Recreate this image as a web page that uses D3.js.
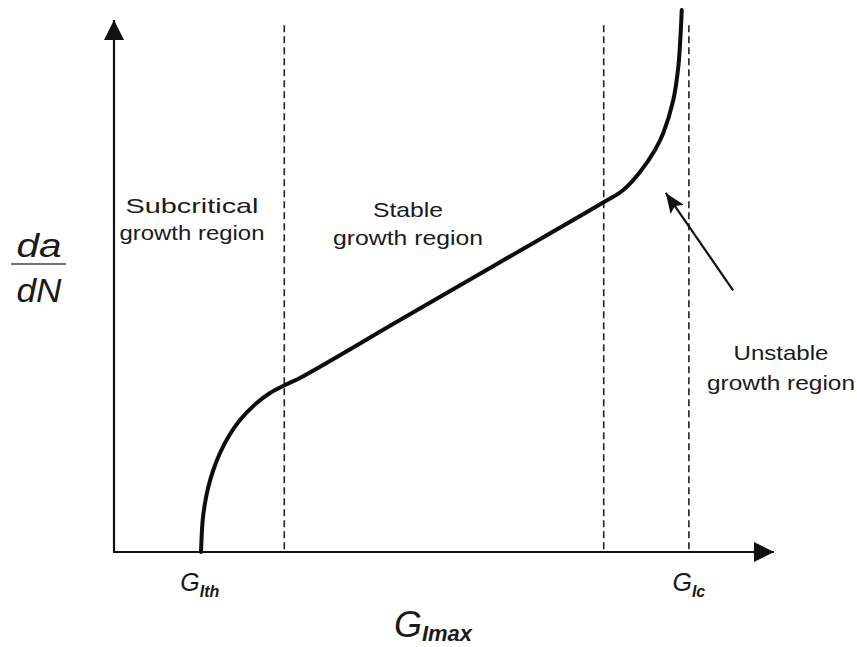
<!DOCTYPE html>
<html>
<head>
<meta charset="utf-8">
<script src="https://cdn.jsdelivr.net/npm/d3@7"></script>
<style>
  html, body { margin: 0; padding: 0; background: #fff; }
  text { font-family: "Liberation Sans", Arial, sans-serif; fill: #1a1a1a; }
</style>
</head>
<body>
<div id="chart-container"></div>
<script>
// da/dN vs G_Imax — schematic fatigue crack growth curve (arbitrary units 0..100)
const curveX = [13.18, 13.44, 13.79, 14.29, 15.05, 16.06, 17.32, 19.09, 21.62, 23.64, 25.91, 28.18, 43.33, 58.48, 74.24, 77.17, 79.70, 81.97, 83.23, 84.74, 85.50, 85.86, 86.02];
const curveY = [0.00, 6.02, 9.21, 12.22, 15.41, 18.61, 21.62, 24.81, 28.01, 29.89, 31.39, 32.71, 43.59, 54.47, 65.79, 68.05, 71.43, 75.56, 78.76, 84.96, 91.17, 97.56, 101.88];
const regionBounds = [25.8, 74.2, 87.1];          // dashed separators
const tickVals = [13.0, 87.1];                     // G_Ith, G_Ic
const tickMain = ["G", "G"];
const tickSub = ["Ith", "Ic"];
const regionLabels = [
  ["Subcritical", "growth region"],
  ["Stable", "growth region"],
  ["Unstable", "growth region"]
];

const width = 857, height = 647;
const svg = d3.select("#chart-container").append("svg")
  .attr("width", width).attr("height", height);

const x = d3.scaleLinear().domain([0, 100]).range([114, 774]);
const y = d3.scaleLinear().domain([0, 100]).range([552, 20]);

// arrow markers
const defs = svg.append("defs");
defs.append("marker")
  .attr("id", "axhead").attr("viewBox", "0 0 20 20")
  .attr("refX", 20).attr("refY", 10)
  .attr("markerWidth", 20).attr("markerHeight", 20)
  .attr("markerUnits", "userSpaceOnUse").attr("orient", "auto")
  .append("path").attr("d", "M0,0 L20,10 L0,20 Z").attr("fill", "#111");
defs.append("marker")
  .attr("id", "pointer").attr("viewBox", "0 0 20 16")
  .attr("refX", 20).attr("refY", 8)
  .attr("markerWidth", 20).attr("markerHeight", 16)
  .attr("markerUnits", "userSpaceOnUse").attr("orient", "auto")
  .append("path").attr("d", "M0,0 L20,8 L0,16 L4,8 Z").attr("fill", "#111");

// dashed region boundaries
svg.selectAll(".bound")
  .data(regionBounds)
  .join("line")
    .attr("class", "bound")
    .attr("x1", d => x(d)).attr("x2", d => x(d))
    .attr("y1", y(99)).attr("y2", y(0))
    .attr("stroke", "#222").attr("stroke-width", 1.6)
    .attr("stroke-dasharray", "7,4");

// axes
svg.append("line")
  .attr("x1", x(0)).attr("y1", y(0)).attr("x2", x(100)).attr("y2", y(0))
  .attr("stroke", "#111").attr("stroke-width", 2.2)
  .attr("marker-end", "url(#axhead)");
svg.append("line")
  .attr("x1", x(0)).attr("y1", y(0) + 1).attr("x2", x(0)).attr("y2", y(100))
  .attr("stroke", "#111").attr("stroke-width", 2.2)
  .attr("marker-end", "url(#axhead)");

// the curve
const pts = curveX.map((d, i) => [d, curveY[i]]);
const line = d3.line().x(d => x(d[0])).y(d => y(d[1])).curve(d3.curveCatmullRom.alpha(0.5));
svg.append("path")
  .datum(pts)
  .attr("d", line)
  .attr("fill", "none").attr("stroke", "#0d0d0d")
  .attr("stroke-width", 4).attr("stroke-linecap", "round");

// pointer arrow to unstable part
svg.append("line")
  .attr("x1", x(93.8)).attr("y1", y(49.2))
  .attr("x2", x(83.6)).attr("y2", y(67.5))
  .attr("stroke", "#111").attr("stroke-width", 2.2)
  .attr("marker-end", "url(#pointer)");

// region labels
const labelPos = [
  {cx: 192, y0: 213, dy: 27, w: [133, 145]},
  {cx: 408, y0: 217, dy: 28, w: [70, 150]},
  {cx: 781, y0: 360, dy: 30, w: [95, 148]}
];
regionLabels.forEach((lines, i) => {
  const p = labelPos[i];
  lines.forEach((t, j) => {
    svg.append("text")
      .attr("x", p.cx).attr("y", p.y0 + j * p.dy)
      .attr("text-anchor", "middle")
      .attr("textLength", p.w[j]).attr("lengthAdjust", "spacingAndGlyphs")
      .style("font-size", "21px")
      .text(t);
  });
});

// tick labels with subscripts
tickVals.forEach((v, i) => {
  const t = svg.append("text")
    .attr("x", x(v)).attr("y", 591)
    .attr("text-anchor", "middle")
    .style("font-style", "italic");
  t.append("tspan").style("font-size", "25px").text(tickMain[i]);
  t.append("tspan").attr("dy", 6).style("font-size", "16px")
    .style("font-weight", "bold").text(tickSub[i]);
});

// x-axis title
const xt = svg.append("text")
  .attr("x", 433).attr("y", 637)
  .attr("text-anchor", "middle")
  .style("font-style", "italic");
xt.append("tspan").style("font-size", "36px").text("G");
xt.append("tspan").attr("dy", 4).style("font-size", "22px")
  .style("font-weight", "bold").text("Imax");

// y-axis title as fraction
svg.append("text")
  .attr("x", 39).attr("y", 257).attr("text-anchor", "middle")
  .attr("textLength", 45).attr("lengthAdjust", "spacingAndGlyphs")
  .style("font-size", "33px").style("font-style", "italic").text("da");
svg.append("line")
  .attr("x1", 11).attr("x2", 66).attr("y1", 264).attr("y2", 264)
  .attr("stroke", "#444").attr("stroke-width", 1.6);
svg.append("text")
  .attr("x", 39).attr("y", 302).attr("text-anchor", "middle")
  .attr("textLength", 45).attr("lengthAdjust", "spacingAndGlyphs")
  .style("font-size", "33px").style("font-style", "italic").text("dN");
</script>
</body>
</html>
